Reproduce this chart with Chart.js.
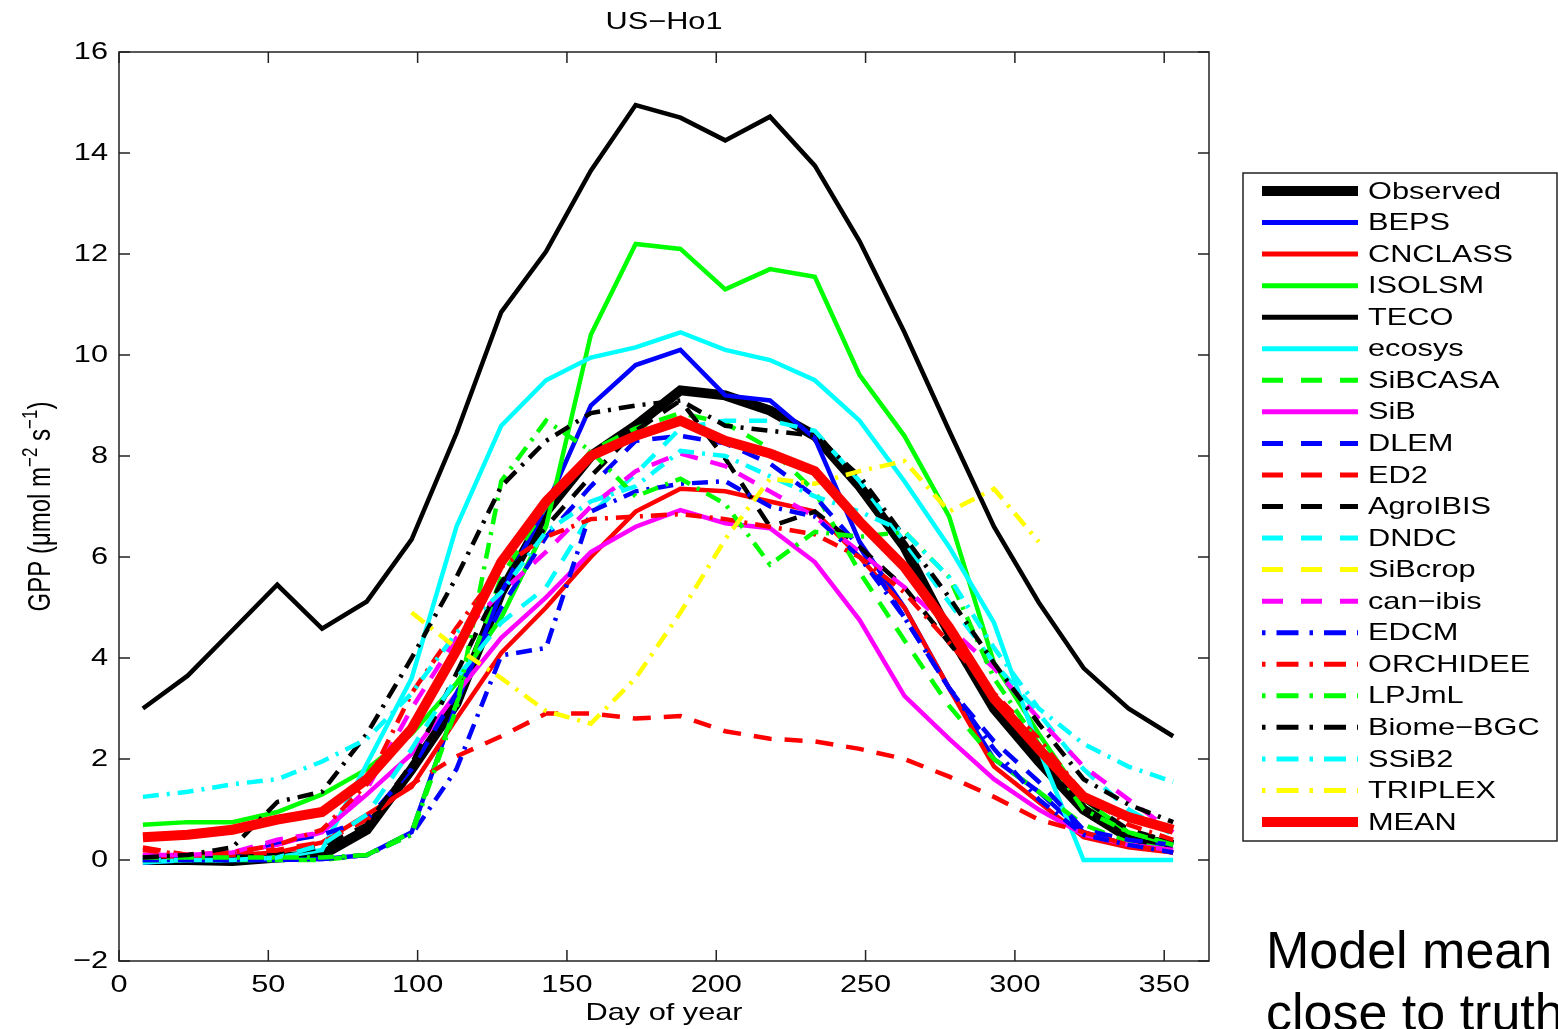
<!DOCTYPE html>
<html>
<head>
<meta charset="utf-8">
<script src="https://cdn.jsdelivr.net/npm/chart.js@4/dist/chart.umd.min.js"></script>
<style>
  html, body { margin: 0; padding: 0; background: #fff; overflow: hidden; }
  #wrap { position: relative; width: 1558px; height: 1029px; overflow: hidden; }
  #note {
    position: absolute; left: 1266px; top: 919px;
    font-family: "Liberation Sans", Arial, sans-serif; font-size: 52px; line-height: 62px;
    color: #000; white-space: nowrap;
  }
</style>
</head>
<body>
<div id="wrap">
  <canvas id="grafico" width="1558" height="1029"></canvas>
  <div id="note">Model mean<br>close to truth</div>
</div>
<script>
// day of year of each point
const dias = [8, 23, 38, 53, 68, 83, 98, 113, 128, 143, 158, 173, 188, 203, 218, 233, 248, 263, 278, 293, 308, 323, 338, 353];

const observed = [0.0, 0.0, -0.02, 0.05, 0.1, 0.6, 1.8, 3.1, 5.3, 6.9, 8.0, 8.6, 9.3, 9.2, 8.9, 8.4, 7.4, 6.2, 4.5, 3.0, 1.95, 1.0, 0.45, 0.3];
const beps = [-0.05, 0.0, 0.0, 0.0, 0.02, 0.1, 0.55, 3.1, 5.3, 7.0, 9.0, 9.8, 10.1, 9.2, 9.1, 8.35, 6.3, 5.0, 3.4, 2.0, 1.35, 0.55, 0.3, 0.15];
const cnclass = [0.1, 0.05, 0.1, 0.15, 0.35, 0.9, 1.45, 2.8, 4.1, 5.0, 6.0, 6.9, 7.35, 7.3, 7.1, 6.9, 6.0, 5.0, 3.4, 1.85, 1.15, 0.45, 0.25, 0.15];
const isolsm = [0.7, 0.75, 0.75, 0.95, 1.3, 1.8, 2.5, 3.5, 4.8, 6.6, 10.4, 12.2, 12.1, 11.3, 11.7, 11.55, 9.6, 8.4, 6.8, 3.9, 2.5, 1.2, 0.55, 0.3];
const teco = [3.0, 3.65, 4.55, 5.45, 4.58, 5.12, 6.35, 8.45, 10.85, 12.05, 13.65, 14.95, 14.7, 14.25, 14.72, 13.75, 12.25, 10.45, 8.5, 6.6, 5.1, 3.8, 3.0, 2.45];
const ecosys = [-0.05, 0.0, 0.0, 0.05, 0.2, 1.9, 3.6, 6.6, 8.6, 9.5, 9.95, 10.15, 10.45, 10.1, 9.9, 9.5, 8.7, 7.5, 6.2, 4.7, 2.2, 0.0, 0.0, 0.0];
const sibcasa = [0.0, 0.0, 0.0, 0.0, 0.0, 0.1, 0.55, 3.1, 5.6, 7.0, 8.1, 8.55, 8.85, 8.65, 8.15, 7.3, 5.7, 4.35, 3.05, 2.0, 1.35, 0.7, 0.35, 0.2];
const sib = [0.1, 0.1, 0.15, 0.3, 0.55, 1.3, 2.1, 3.3, 4.4, 5.2, 6.1, 6.6, 6.93, 6.67, 6.57, 5.9, 4.75, 3.25, 2.4, 1.6, 1.0, 0.5, 0.3, 0.2];
const dlem = [0.05, 0.05, 0.1, 0.35, 0.5, 0.8, 1.8, 3.3, 5.0, 6.4, 7.4, 8.3, 8.4, 8.25, 7.85, 7.2, 6.2, 4.8, 3.4, 2.35, 1.55, 0.6, 0.4, 0.3];
const ed2 = [0.25, 0.1, 0.15, 0.2, 0.35, 0.8, 1.5, 2.05, 2.45, 2.9, 2.9, 2.8, 2.85, 2.55, 2.4, 2.35, 2.2, 2.0, 1.65, 1.25, 0.8, 0.55, 0.3, 0.15];
const agroibis = [0.0, 0.0, 0.05, 0.1, 0.25, 0.7, 1.9, 3.7, 5.5, 6.6, 7.6, 8.5, 9.1, 7.95, 6.6, 6.9, 6.2, 5.4, 4.3, 3.2, 2.3, 1.2, 0.6, 0.35];
const dndc = [0.0, 0.0, 0.0, 0.05, 0.3, 0.9, 2.2, 3.6, 4.7, 5.4, 6.85, 7.65, 8.55, 8.7, 8.7, 8.5, 7.5, 6.3, 5.1, 3.9, 2.9, 1.8, 1.0, 0.5];
const sibcrop = [null, null, null, null, null, null, null, null, null, null, null, null, null, null, null, null, null, null, null, null, null, null, null, null];
const canibis = [0.1, 0.1, 0.15, 0.4, 0.55, 1.4, 3.0, 4.4, 5.3, 6.1, 7.0, 7.7, 8.05, 7.8, 7.3, 6.8, 6.1, 5.4, 4.6, 3.8, 2.8, 1.85, 1.2, 0.55];
const edcm = [0.0, 0.0, 0.0, 0.0, 0.02, 0.1, 0.5, 1.8, 4.05, 4.2, 6.9, 7.3, 7.45, 7.5, 7.0, 6.8, 6.0, 4.8, 3.4, 2.2, 1.2, 0.5, 0.3, 0.15];
const orchidee = [0.2, 0.1, 0.15, 0.3, 0.6, 1.5, 3.3, 4.6, 5.8, 6.4, 6.75, 6.8, 6.85, 6.75, 6.6, 6.45, 6.0, 5.3, 4.3, 3.3, 2.4, 1.3, 0.7, 0.4];
const lpjml = [0.05, 0.05, 0.05, 0.05, 0.05, 0.1, 0.5, 3.0, 7.5, 8.7, 8.1, 7.2, 7.55, 7.05, 5.85, 6.5, 6.4, 6.5, 5.6, 3.6, 2.3, 1.0, 0.55, 0.3];
const biomebgc = [0.05, 0.1, 0.25, 1.15, 1.35, 2.5, 4.0, 5.6, 7.4, 8.3, 8.85, 9.0, 9.1, 8.6, 8.5, 8.4, 7.6, 6.4, 5.2, 3.9, 2.7, 1.6, 1.1, 0.75];
const ssib2 = [1.25, 1.35, 1.5, 1.6, 1.95, 2.4, 3.3, 4.5, 5.3, 6.5, 7.1, 7.4, 8.1, 8.0, 7.6, 7.2, 6.9, 6.5, 5.6, 4.2, 3.0, 2.3, 1.85, 1.55];
const triplex = [null, null, null, null, null, null, 4.9, 4.2, 3.6, 2.95, 2.7, 3.6, 4.9, 6.35, 7.55, 7.45, 7.7, 7.9, 6.9, 7.35, 6.3, null, null, null];
const mean = [0.45, 0.5, 0.6, 0.8, 0.95, 1.6, 2.6, 4.15, 5.9, 7.1, 8.0, 8.4, 8.7, 8.3, 8.05, 7.7, 6.7, 5.8, 4.6, 3.2, 2.2, 1.25, 0.85, 0.6];

// name, values, colour, style, thick
const series = [
    ['Observed', observed, '#000000', 'solid', true],
    ['BEPS', beps, '#0000ff', 'solid', false],
    ['CNCLASS', cnclass, '#ff0000', 'solid', false],
    ['ISOLSM', isolsm, '#00ff00', 'solid', false],
    ['TECO', teco, '#000000', 'solid', false],
    ['ecosys', ecosys, '#00ffff', 'solid', false],
    ['SiBCASA', sibcasa, '#00ff00', 'dash', false],
    ['SiB', sib, '#ff00ff', 'solid', false],
    ['DLEM', dlem, '#0000ff', 'dash', false],
    ['ED2', ed2, '#ff0000', 'dash', false],
    ['AgroIBIS', agroibis, '#000000', 'dash', false],
    ['DNDC', dndc, '#00ffff', 'dash', false],
    ['SiBcrop', sibcrop, '#ffff00', 'dash', false],
    ['can\u2212ibis', canibis, '#ff00ff', 'dash', false],
    ['EDCM', edcm, '#0000ff', 'dashdot', false],
    ['ORCHIDEE', orchidee, '#ff0000', 'dashdot', false],
    ['LPJmL', lpjml, '#00ff00', 'dashdot', false],
    ['Biome\u2212BGC', biomebgc, '#000000', 'dashdot', false],
    ['SSiB2', ssib2, '#00ffff', 'dashdot', false],
    ['TRIPLEX', triplex, '#ffff00', 'dashdot', false],
    ['MEAN', mean, '#ff0000', 'solid', true]
];

const SX = 1.28;          // matlab text looks stretched sideways
const FONTE = '"Liberation Sans", Arial, sans-serif';
const tracos = { solid: [], dash: [18, 13], dashdot: [16, 8, 3, 8] };

function texto(ctx, txt, x, y, align, size) {
    ctx.save();
    ctx.font = size + 'px ' + FONTE;
    ctx.translate(x, y);
    ctx.scale(SX, 1);
    ctx.textAlign = align;
    ctx.textBaseline = 'middle';
    ctx.fillStyle = '#000';
    ctx.fillText(txt, 0, 0);
    ctx.restore();
}

function rotulo(v) {
    return v < 0 ? '\u2212' + Math.abs(v) : String(v);
}

const moldura = {
    id: 'moldura',
    afterDraw(chart) {
        const ctx = chart.ctx;
        const a = chart.chartArea;
        const sx = chart.scales.x, sy = chart.scales.y;
        const xt = sx.ticks.filter(t => t.value % 50 === 0);
        const yt = sy.ticks.filter(t => t.value % 2 === 0);

        // box and inward ticks
        ctx.save();
        ctx.strokeStyle = '#222';
        ctx.lineWidth = 1.5;
        ctx.strokeRect(a.left, a.top, a.right - a.left, a.bottom - a.top);
        ctx.beginPath();
        xt.forEach(t => {
            const px = sx.getPixelForValue(t.value);
            ctx.moveTo(px, a.bottom); ctx.lineTo(px, a.bottom - 11);
            ctx.moveTo(px, a.top); ctx.lineTo(px, a.top + 11);
        });
        yt.forEach(t => {
            const py = sy.getPixelForValue(t.value);
            ctx.moveTo(a.left, py); ctx.lineTo(a.left + 11, py);
            ctx.moveTo(a.right, py); ctx.lineTo(a.right - 11, py);
        });
        ctx.stroke();
        ctx.restore();

        xt.forEach(t => texto(ctx, rotulo(t.value), sx.getPixelForValue(t.value), a.bottom + 24, 'center', 24));
        yt.forEach(t => texto(ctx, rotulo(t.value), a.left - 11, sy.getPixelForValue(t.value), 'right', 24));

        texto(ctx, 'US\u2212Ho1', (a.left + a.right) / 2, 22, 'center', 24);
        texto(ctx, 'Day of year', (a.left + a.right) / 2, 1013, 'center', 24);

        // y label with superscripts, drawn rotated
        const partes = [['GPP (\u03bcmol m', 24, 0], ['\u22122', 17, -10], [' s', 24, 0], ['\u22121', 17, -10], [')', 24, 0]];
        ctx.save();
        let total = 0;
        partes.forEach(p => { ctx.font = p[1] + 'px ' + FONTE; total += ctx.measureText(p[0]).width; });
        ctx.translate(40, (a.top + a.bottom) / 2);
        ctx.rotate(-Math.PI / 2);
        ctx.scale(1, SX);
        ctx.fillStyle = '#000';
        ctx.textBaseline = 'alphabetic';
        let cx = -total / 2;
        partes.forEach(p => {
            ctx.font = p[1] + 'px ' + FONTE;
            ctx.fillText(p[0], cx, 8 + p[2]);
            cx += ctx.measureText(p[0]).width;
        });
        ctx.restore();

        // legend box
        const lx = 1243, ly = 173, lw = 314, lh = 668;
        ctx.save();
        ctx.fillStyle = '#fff';
        ctx.fillRect(lx, ly, lw, lh);
        ctx.strokeStyle = '#222';
        ctx.lineWidth = 1.5;
        ctx.strokeRect(lx, ly, lw, lh);
        const legTracos = { solid: [], dash: [21, 18], dashdot: [3.5, 11, 22, 11] };
        chart.data.datasets.forEach((ds, i) => {
            const y = 191 + i * 31.55;
            ctx.beginPath();
            ctx.setLineDash(legTracos[ds.estilo]);
            ctx.lineCap = 'butt';
            ctx.strokeStyle = ds.borderColor;
            ctx.lineWidth = ds.grosso ? 10 : 5;
            ctx.moveTo(1262, y);
            ctx.lineTo(1358, y);
            ctx.stroke();
            ctx.setLineDash([]);
            texto(ctx, ds.label, 1368, y + 1, 'left', 24);
        });
        ctx.restore();
    }
};

const datasets = series.map((s, i) => ({
    label: s[0],
    data: dias.map((d, k) => ({ x: d, y: s[1][k] })),
    borderColor: s[2],
    borderWidth: s[4] ? 10 : 4.5,
    borderDash: tracos[s[3]],
    estilo: s[3],
    grosso: s[4],
    fill: false,
    pointRadius: 0,
    tension: 0,
    spanGaps: false,
    order: series.length - i
}));

new Chart(document.getElementById('grafico'), {
    type: 'line',
    data: { datasets },
    options: {
        responsive: false,
        animation: false,
        layout: { padding: { left: 119, top: 52, right: 349, bottom: 68 } },
        plugins: { legend: { display: false }, tooltip: { enabled: false } },
        scales: {
            x: {
                type: 'linear', min: 0, max: 365,
                ticks: { display: false, stepSize: 50 },
                grid: { display: false, drawTicks: false },
                border: { display: false }
            },
            y: {
                type: 'linear', min: -2, max: 16,
                ticks: { display: false, stepSize: 2 },
                grid: { display: false, drawTicks: false },
                border: { display: false }
            }
        }
    },
    plugins: [moldura]
});
</script>
</body>
</html>
